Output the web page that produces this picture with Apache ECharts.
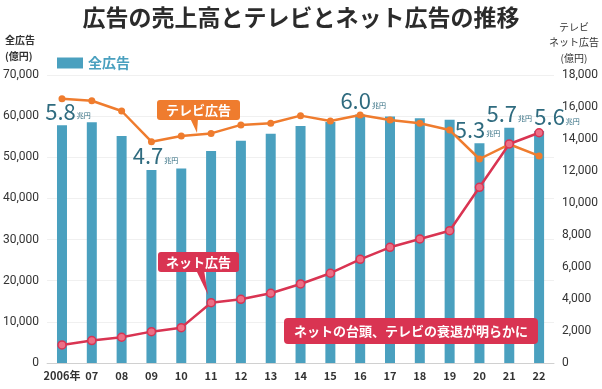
<!DOCTYPE html>
<html><head><meta charset="utf-8">
<script src="https://cdn.jsdelivr.net/npm/echarts@6/dist/echarts.min.js"></script>
<style>html,body{margin:0;padding:0;background:#fff}#c{width:602px;height:389px}</style>
</head><body><div id="c"></div>
<script>
const categories = ['2006年','07','08','09','10','11','12','13','14','15','16','17','18','19','20','21','22'];
const totalAds = [57800,58500,55200,46900,47300,51500,54000,55700,57600,58600,60400,59900,59500,59100,53400,57200,56400];
const tvAds = [16520,16390,15750,13830,14190,14350,14880,14980,15460,15130,15500,15190,14980,14560,12750,13670,12940];
const netAds = [1130,1400,1610,1960,2210,3770,3980,4360,4940,5610,6480,7230,7750,8270,10980,13690,14390];
const leftTicks = {min:0, max:70000, interval:10000};
const rightTicks = {min:0, max:18000, interval:2000};
const labelIdx = [0,3,10,14,15,16];
const labelOffsets = {0:[6,0],3:[4,0],10:[3,0],14:[-2,0],15:[0,0],16:[18,0]};

const FONT = '"Noto Sans CJK JP", "Noto Sans", sans-serif';
const BAR = '#4aa0bf', ORANGE = '#ef7c2e', RED = '#d93452', NUM = '#2f6b7f';

const barData = totalAds.map((v,i)=>{
  if (labelIdx.indexOf(i) < 0) return v;
  return {value:v, label:{show:true, position:'top', distance:2, offset:labelOffsets[i],
    formatter: p => '{a|' + (p.value/10000).toFixed(1) + '}{b|兆円}',
    rich:{a:{fontSize:22, color:NUM, fontFamily:FONT, lineHeight:24},
          b:{fontSize:7, color:NUM, fontFamily:FONT, verticalAlign:'bottom', padding:[0,0,4,1]}}}};
});

const chart = echarts.init(document.getElementById('c'));
chart.setOption({
  animation:false,
  textStyle:{fontFamily:FONT},
  title:{text:'広告の売上高とテレビとネット広告の推移', left:'center', top:1,
    textStyle:{fontSize:23, fontWeight:'bold', color:'#2b2b2b', fontFamily:FONT}},
  legend:{data:['全広告'], left:52, top:51, itemWidth:26, itemHeight:11, itemGap:6,
    icon:'rect', textStyle:{color:BAR, fontSize:14, fontWeight:'bold', fontFamily:FONT}},
  grid:{left:46, right:48, top:75, bottom:26},
  xAxis:{type:'category', data:categories,
    axisLine:{lineStyle:{color:'#d0d0d0'}}, axisTick:{show:false},
    axisLabel:{interval:0, hideOverlap:false, color:'#333', fontSize:11, fontWeight:'bold', margin:7, fontFamily:FONT}},
  yAxis:[
    {type:'value', min:leftTicks.min, max:leftTicks.max, interval:leftTicks.interval,
     axisLine:{show:false}, axisTick:{show:false},
     splitLine:{lineStyle:{color:'#f0f0f0'}},
     axisLabel:{color:'#333', fontSize:12, margin:8, fontFamily:'Roboto, sans-serif',
       formatter:v=>v.toLocaleString('en-US')}},
    {type:'value', min:rightTicks.min, max:rightTicks.max, interval:rightTicks.interval,
     axisLine:{show:false}, axisTick:{show:false}, splitLine:{show:false},
     axisLabel:{color:'#333', fontSize:12, margin:8, fontFamily:'Roboto, sans-serif',
       formatter:v=>v.toLocaleString('en-US')}}
  ],
  series:[
    {name:'全広告', type:'bar', data:barData, barWidth:10, itemStyle:{color:BAR}, z:1},
    {name:'テレビ広告', type:'line', yAxisIndex:1, data:tvAds, symbol:'circle', symbolSize:7,
     lineStyle:{color:ORANGE, width:2.5}, itemStyle:{color:ORANGE}, z:3},
    {name:'ネット広告', type:'line', yAxisIndex:1, data:netAds, symbol:'circle', symbolSize:8,
     lineStyle:{color:RED, width:2.5}, itemStyle:{color:'#ec6f86', borderColor:RED, borderWidth:1.5}, z:4}
  ],
  graphic:[
    {type:'text', left:5, top:35, style:{text:'全広告', fill:'#333', font:'bold 10px '+FONT}},
    {type:'text', left:5, top:51, style:{text:'(億円)', fill:'#333', font:'bold 10px '+FONT}},
    {type:'text', x:574, y:27, style:{text:'テレビ', align:'center', verticalAlign:'middle', fill:'#333', font:'10px '+FONT}},
    {type:'text', x:574, y:42, style:{text:'ネット広告', align:'center', verticalAlign:'middle', fill:'#333', font:'10px '+FONT}},
    {type:'text', x:574, y:58, style:{text:'(億円)', align:'center', verticalAlign:'middle', fill:'#333', font:'10px '+FONT}},
    {type:'polygon', shape:{points:[[190,118],[198,118],[197,133]]}, style:{fill:ORANGE}, z:10},
    {type:'rect', shape:{x:157,y:100,width:83,height:20,r:3}, style:{fill:ORANGE}, z:10},
    {type:'text', x:198.5, y:110, style:{text:'テレビ広告', align:'center', verticalAlign:'middle', fill:'#fff', font:'bold 13px '+FONT}, z:11},
    {type:'polygon', shape:{points:[[196,270],[204,270],[208,295]]}, style:{fill:RED}, z:10},
    {type:'rect', shape:{x:158,y:252,width:81,height:20,r:3}, style:{fill:RED}, z:10},
    {type:'text', x:198.5, y:262, style:{text:'ネット広告', align:'center', verticalAlign:'middle', fill:'#fff', font:'bold 13px '+FONT}, z:11},
    {type:'rect', shape:{x:284,y:318,width:254,height:26,r:4}, style:{fill:RED}, z:10},
    {type:'text', x:411, y:331, style:{text:'ネットの台頭、テレビの衰退が明らかに', align:'center', verticalAlign:'middle', fill:'#fff', font:'bold 13px '+FONT}, z:11}
  ]
});
</script></body></html>
